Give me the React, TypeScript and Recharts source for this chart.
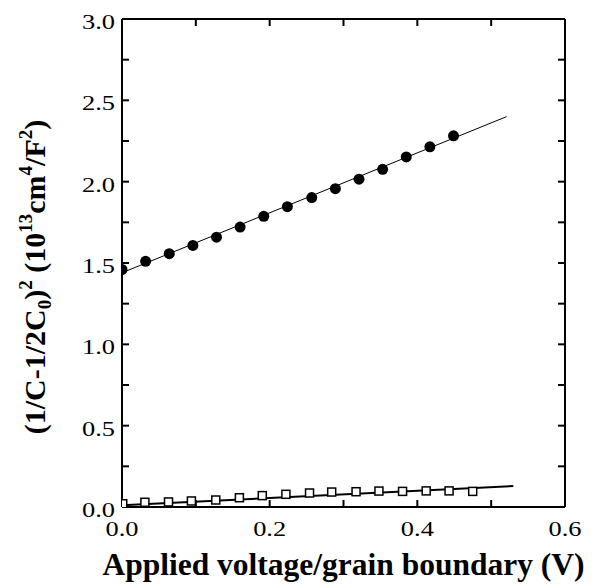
import React from 'react';
import { ComposedChart, Scatter, XAxis, YAxis } from 'recharts';

// Filled circles (upper series)
const circleX = [0, 0.032, 0.064, 0.096, 0.128, 0.16, 0.192, 0.224, 0.257, 0.289, 0.321, 0.353, 0.385, 0.417, 0.449];
const circleY = [1.46, 1.51, 1.557, 1.608, 1.659, 1.721, 1.787, 1.846, 1.902, 1.957, 2.015, 2.076, 2.152, 2.214, 2.282];

// Open squares (lower series)
const squareX = [0.001, 0.031, 0.063, 0.094, 0.127, 0.159, 0.19, 0.222, 0.254, 0.284, 0.317, 0.348, 0.38, 0.412, 0.443, 0.475];
const squareY = [0.02, 0.029, 0.031, 0.037, 0.043, 0.057, 0.07, 0.078, 0.086, 0.092, 0.094, 0.098, 0.096, 0.099, 0.099, 0.096];

// Linear fits
const fitCircleX = [0, 0.521];
const fitCircleY = [1.44, 2.4];
const fitSquareX = [0, 0.53];
const fitSquareY = [0.01, 0.129];

// Axes
const xTicks = [0, 0.1, 0.2, 0.3, 0.4, 0.5, 0.6];
const xTickLabels = ['0.0', '', '0.2', '', '0.4', '', '0.6'];
const yTicks = [0, 0.25, 0.5, 0.75, 1.0, 1.25, 1.5, 1.75, 2.0, 2.25, 2.5, 2.75, 3.0];
const yTickLabels = ['0.0', '', '0.5', '', '1.0', '', '1.5', '', '2.0', '', '2.5', '', '3.0'];

const circleData = circleX.map((x, i) => ({ x, y: circleY[i] }));
const squareData = squareX.map((x, i) => ({ x, y: squareY[i] }));
const fitCircle = fitCircleX.map((x, i) => ({ x, y: fitCircleY[i] }));
const fitSquare = fitSquareX.map((x, i) => ({ x, y: fitSquareY[i] }));

const FONT = '"Liberation Serif", "Times New Roman", serif';
const TICK = -7;
const tickLineStyle = { stroke: '#000', strokeWidth: 2 };
const axisLineStyle = { stroke: '#000', strokeWidth: 2 };

// y passed = axis line y - 7 (inward tick end)
const BottomTick = (props: any) => {
  const { x, y, index } = props;
  const label = xTickLabels[index] ?? '';
  if (!label) return <g />;
  return (
    <text
      transform={`translate(${x} ${y + 36}) scale(1.2 1)`}
      textAnchor="middle"
      fontFamily={FONT}
      fontSize={22}
      fill="#000"
    >
      {label}
    </text>
  );
};

// x passed = axis line x + 7 (inward tick end)
const LeftTick = (props: any) => {
  const { x, y, index } = props;
  const label = yTickLabels[index] ?? '';
  if (!label) return <g />;
  return (
    <text
      transform={`translate(${x - 14} ${y + 10}) scale(1.2 1)`}
      textAnchor="end"
      fontFamily={FONT}
      fontSize={22}
      fill="#000"
    >
      {label}
    </text>
  );
};

const NoLabel = () => <g />;

const XTitle = (props: any) => {
  const vb = props.viewBox || { x: 114, y: 499, width: 443, height: 81 };
  return (
    <text
      x={vb.x + vb.width / 2}
      y={vb.y + 68}
      textAnchor="middle"
      fontFamily={FONT}
      fontWeight="bold"
      fontSize={31.5}
      fill="#000"
    >
      Applied voltage/grain boundary (V)
    </text>
  );
};

const YTitle = (props: any) => {
  const vb = props.viewBox || { x: 0, y: 11, width: 114, height: 488 };
  const cx = vb.x + 37;
  const cy = vb.y + vb.height / 2 + 14;
  const small = 19;
  return (
    <text
      transform={`translate(${cx} ${cy}) rotate(-90)`}
      textAnchor="middle"
      fontFamily={FONT}
      fontWeight="bold"
      fontSize={30}
      fill="#000"
    >
      <tspan>(1/C-1/2C</tspan>
      <tspan fontSize={small} dy={6}>0</tspan>
      <tspan dy={-6}>)</tspan>
      <tspan fontSize={small} dy={-13}>2</tspan>
      <tspan dy={13}> (10</tspan>
      <tspan fontSize={small} dy={-13}>13</tspan>
      <tspan dy={13}>cm</tspan>
      <tspan fontSize={small} dy={-13}>4</tspan>
      <tspan dy={13}>/F</tspan>
      <tspan fontSize={small} dy={-13}>2</tspan>
      <tspan dy={13}>)</tspan>
    </text>
  );
};

const Circle = (props: any) => {
  const { cx, cy } = props;
  if (cx == null || cy == null) return <g />;
  return <circle cx={cx} cy={cy} r={5.5} fill="#000" />;
};

const Square = (props: any) => {
  const { cx, cy } = props;
  if (cx == null || cy == null) return <g />;
  return <rect x={cx - 4} y={cy - 4} width={8} height={8} fill="#fff" stroke="#000" strokeWidth={1.5} />;
};

const Nothing = () => <g />;

export default function App() {
  return (
    <ComposedChart
      width={587}
      height={580}
      margin={{ top: 10, right: 29, bottom: 0, left: 0 }}
      style={{ background: '#fff' }}
    >
      <XAxis
        type="number"
        dataKey="x"
        domain={[0, 0.6]}
        ticks={xTicks}
        interval={0}
        allowDataOverflow
        height={81}
        tickSize={TICK}
        tickMargin={0}
        tickLine={tickLineStyle}
        tick={<BottomTick />}
        axisLine={axisLineStyle}
        label={<XTitle />}
      />
      <XAxis
        xAxisId="top"
        orientation="top"
        type="number"
        dataKey="x"
        domain={[0, 0.6]}
        ticks={xTicks}
        interval={0}
        allowDataOverflow
        height={1}
        tickSize={TICK}
        tickMargin={0}
        tickLine={tickLineStyle}
        tick={<NoLabel />}
        axisLine={axisLineStyle}
      />
      <YAxis
        type="number"
        dataKey="y"
        domain={[0, 3]}
        ticks={yTicks}
        interval={0}
        allowDataOverflow
        width={114}
        tickSize={TICK}
        tickMargin={0}
        tickLine={tickLineStyle}
        tick={<LeftTick />}
        axisLine={axisLineStyle}
        label={<YTitle />}
      />
      <YAxis
        yAxisId="right"
        orientation="right"
        type="number"
        dataKey="y"
        domain={[0, 3]}
        ticks={yTicks}
        interval={0}
        allowDataOverflow
        width={1}
        tickSize={TICK}
        tickMargin={0}
        tickLine={tickLineStyle}
        tick={<NoLabel />}
        axisLine={axisLineStyle}
      />
      <Scatter
        data={fitCircle}
        dataKey="y"
        xAxisId="top"
        yAxisId="right"
        line={{ stroke: '#000', strokeWidth: 1 }}
        shape={<Nothing />}
        isAnimationActive={false}
      />
      <Scatter
        data={fitSquare}
        dataKey="y"
        xAxisId="top"
        yAxisId="right"
        line={{ stroke: '#000', strokeWidth: 2 }}
        shape={<Nothing />}
        isAnimationActive={false}
      />
      <Scatter data={squareData} dataKey="y" shape={<Square />} isAnimationActive={false} />
      <Scatter data={circleData} dataKey="y" shape={<Circle />} isAnimationActive={false} />
    </ComposedChart>
  );
}
